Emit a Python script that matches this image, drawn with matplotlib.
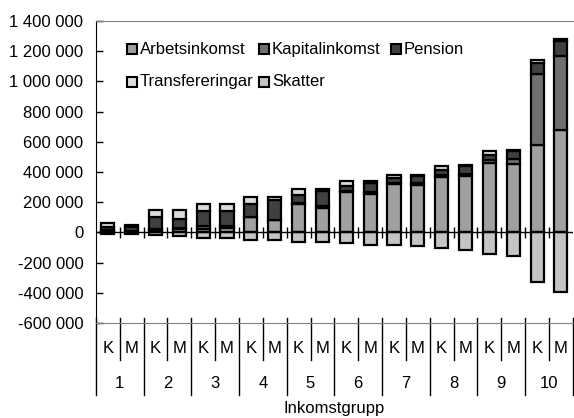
import matplotlib
matplotlib.use("Agg")
import matplotlib.pyplot as plt
from matplotlib.patches import Rectangle
import numpy as np
from matplotlib.ticker import FuncFormatter

# ── Data ───────────────────────────────────────────────────────────────────────

groups = ["1", "2", "3", "4", "5", "6", "7", "8", "9", "10"]
sexes = ["K", "M"]

# order: 1K, 1M, 2K, 2M, ... 10K, 10M
arbetsinkomst = [8000, 5000, 15000, 20000, 25000, 30000, 100000, 80000, 185000, 165000,
                 265000, 255000, 320000, 315000, 370000, 375000, 460000, 455000, 576000, 680000]
kapitalinkomst = [5000, 5000, 5000, 10000, 15000, 10000, 5000, 5000, 10000, 10000,
                  10000, 10000, 10000, 10000, 10000, 10000, 20000, 30000, 475000, 486000]
pension = [25000, 25000, 85000, 60000, 105000, 105000, 85000, 130000, 55000, 100000,
           35000, 65000, 30000, 50000, 30000, 55000, 35000, 55000, 71000, 99000]
transfereringar = [25000, 15000, 45000, 60000, 45000, 45000, 45000, 20000, 35000, 15000,
                   30000, 12000, 20000, 8000, 30000, 8000, 25000, 8000, 20000, 12000]
skatter = [-10000, -8000, -20000, -22000, -35000, -35000, -48000, -52000, -60000, -66000,
           -73000, -80000, -86000, -90000, -103000, -115000, -143000, -155000, -331000, -397000]

y_ticks = np.arange(-600000, 1400001, 200000)

# ── Stil ───────────────────────────────────────────────────────────────────────

plt.rcParams["font.family"] = ["Liberation Sans", "DejaVu Sans"]
plt.rcParams["font.size"] = 12

COLORS = {
    "Arbetsinkomst":   "#a0a0a0",
    "Kapitalinkomst":  "#707070",
    "Pension":         "#404040",
    "Transfereringar": "#dcdcdc",
    "Skatter":         "#c4c4c4",
}
EDGE = dict(edgecolor="black", linewidth=1.6)
BAR_W = 0.55

fig = plt.figure(figsize=(5.74, 4.18), dpi=100)
ax = fig.add_axes([0.167, 0.227, 0.831, 0.723])

n = len(arbetsinkomst)
x = np.arange(n)

bottom = np.zeros(n)
for name, vals in [("Arbetsinkomst", arbetsinkomst),
                   ("Kapitalinkomst", kapitalinkomst),
                   ("Pension", pension),
                   ("Transfereringar", transfereringar)]:
    ax.bar(x, vals, BAR_W, bottom=bottom, color=COLORS[name], zorder=3, **EDGE)
    bottom += np.array(vals)
ax.bar(x, skatter, BAR_W, color=COLORS["Skatter"], zorder=3, **EDGE)

# Nulllinje med Teilstrichen zwischen den Kategorien
ax.axhline(0, color="black", linewidth=1.0, zorder=4)
ax.vlines(np.arange(0.5, n - 0.5, 1.0), -35000, 35000, color="black",
          linewidth=1.0, zorder=4)

ax.set_xlim(-0.5, n - 0.5)
ax.set_ylim(-600000, 1400000)
ax.set_yticks(y_ticks)
ax.yaxis.set_major_formatter(FuncFormatter(lambda v, p: f"{int(v):,}".replace(",", " ")))
ax.tick_params(axis="y", direction="in", length=5, width=1, labelsize=12, pad=9)
ax.set_xticks([])

for side in ["top", "bottom"]:
    ax.spines[side].set_color("#808080")
ax.spines["right"].set_visible(False)
ax.spines["left"].set_color("black")

# ── zweistufige x-Achse ───────────────────────────────────────────────────────

trans = ax.get_xaxis_transform()
for i in range(n):
    ax.text(i, -0.083, sexes[i % 2], transform=trans, ha="center", va="center",
            fontsize=12, clip_on=False)
for g, label in enumerate(groups):
    ax.text(2 * g + 0.5, -0.199, label, transform=trans, ha="center", va="center",
            fontsize=12, clip_on=False)
for b in np.arange(-0.5, n, 1.0):
    low = -0.238 if (b + 0.5) % 2 == 0 else -0.123
    ax.plot([b, b], [0.017, low], transform=trans, color="black", linewidth=1.0,
            clip_on=False)
ax.text(0.5, -0.283, "Inkomstgrupp", transform=ax.transAxes, ha="center",
        va="center", fontsize=12)

# ── Legende (manuell platziert, 3 Spalten x 2 Zeilen) ─────────────────────────

legend_items = [("Arbetsinkomst", 0, 0), ("Kapitalinkomst", 1, 0), ("Pension", 2, 0),
                ("Transfereringar", 0, 1), ("Skatter", 1, 1)]
col_x = [0.065, 0.342, 0.619]
row_y = [0.907, 0.798]
sq_w, sq_h = 10 / 477, 10 / 302
for name, c, r in legend_items:
    ax.add_patch(Rectangle((col_x[c], row_y[r] - sq_h / 2), sq_w, sq_h,
                           transform=ax.transAxes, facecolor=COLORS[name],
                           edgecolor="black", linewidth=1.5, zorder=5))
    ax.text(col_x[c] + sq_w + 0.006, row_y[r], name, transform=ax.transAxes,
            ha="left", va="center", fontsize=12, zorder=5)

fig.savefig("out.png", dpi=100)
